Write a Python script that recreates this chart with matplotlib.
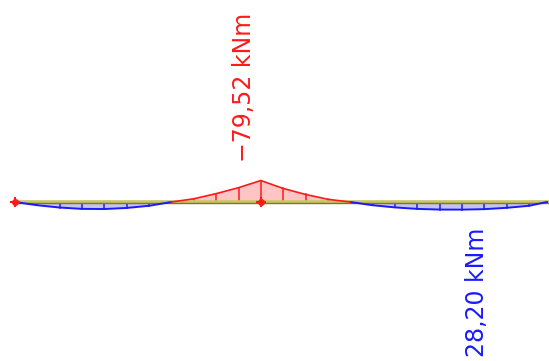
import numpy as np
import matplotlib.pyplot as plt

# stations along the beam (m) and bending moment (kNm), sagging positive
stations = [0.0, 0.5, 1.0, 1.5, 2.0, 2.5, 3.0, 3.5, 4.0, 4.5, 5.0, 5.5,
            6.0, 6.5, 7.0, 7.5, 8.0, 8.5, 9.0, 9.5, 10.0, 10.5, 11.0, 11.5, 11.9]
moments = [0.0, 12.0, 20.5, 25.5, 26.0, 22.0, 14.0, 0.0, -12.0, -31.0, -53.0, -79.52,
           -50.0, -28.0, -10.0, 0.0, 12.0, 20.0, 25.5, 28.0, 28.2, 26.5, 21.5, 14.0, 0.0]
supports = [0.0, 5.5]
labels = ["\u221279,52 kNm", "28,20 kNm"]
label_at = [5.5, 10.0]

x = np.array(stations)
m = np.array(moments)

red = '#ff1a1a'
blue = '#1a1aff'

fig = plt.figure(figsize=(5.49, 3.61), dpi=100)
ax = fig.add_axes([0, 0, 1, 1])

# fills
ax.fill_between(x, 0, m, where=m >= 0, interpolate=True, color='#c4c4f2', lw=0)
ax.fill_between(x, 0, m, where=m <= 0, interpolate=True, color='#ffc4c4', lw=0)

# hatch lines at stations
for xi, mi in zip(x, m):
    if mi != 0:
        ax.plot([xi, xi], [0, mi], color=red if mi < 0 else blue, lw=1.1)

# beam
ax.plot([x[0], x[-1] + 0.1], [0, 0], color='#c8c468', lw=2.6, solid_capstyle='butt')
ax.plot([x[0], x[-1] + 0.1], [3.2, 3.2], color='#7c7a18', lw=1.0, solid_capstyle='butt')

# moment curve split by sign
mpos = np.where(m >= 0, m, np.nan)
mneg = np.where(m <= 0, m, np.nan)
ax.plot(x, mpos, color=blue, lw=1.4)
ax.plot(x, mneg, color=red, lw=1.2)

# supports
ax.plot(supports, [0, 0], 'o', color=red, ms=4)
ax.plot(supports, [0, 0], '+', color=red, ms=7, mew=1.5)

# labels
i0 = stations.index(label_at[0])
ax.annotate(labels[0], xy=(label_at[0], moments[i0]), xytext=(-12, 13),
            textcoords='offset points', rotation=90, ha='center', va='bottom',
            color=red, fontsize=17)
i1 = stations.index(label_at[1])
ax.annotate(labels[1], xy=(label_at[1], moments[i1]), xytext=(11, -13),
            textcoords='offset points', rotation=90, ha='center', va='top',
            color=blue, fontsize=17)

ax.set_xlim(-15 / 44.7, 534 / 44.7)
ax.set_ylim(159 * 3.7, -202 * 3.7)
ax.axis('off')

fig.savefig('out.png', dpi=100)
